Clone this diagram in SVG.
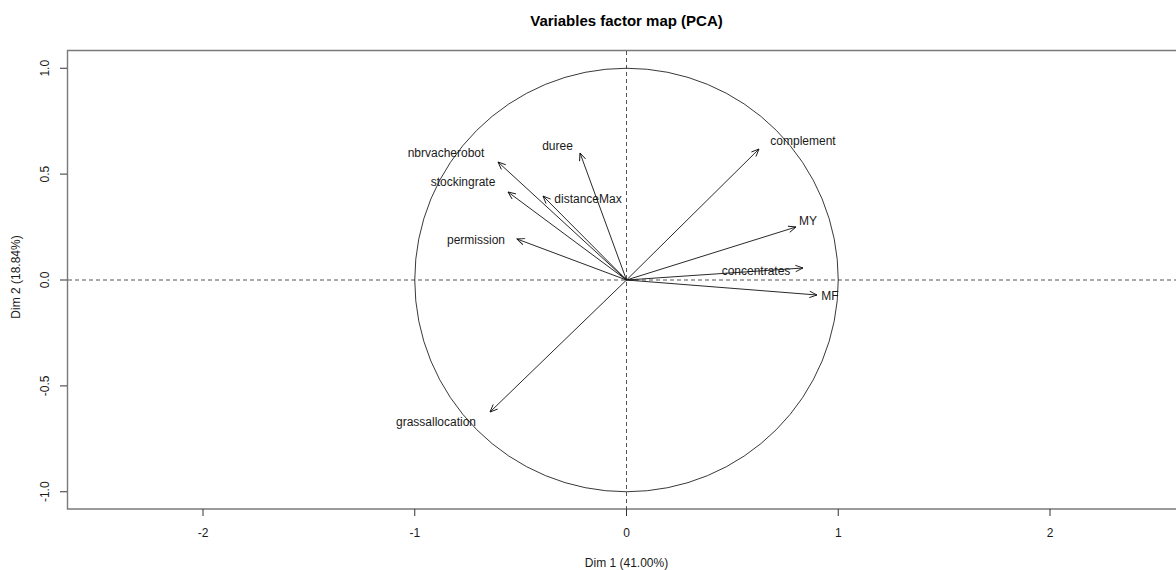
<svg xmlns="http://www.w3.org/2000/svg" width="1176" height="570" viewBox="0 0 1176 570">
<style>
text{font-family:"Liberation Sans",Arial,sans-serif;fill:#1a1a1a}
.t{font-size:12px}
.ttl{font-size:15px;font-weight:bold;fill:#000}
.frame{fill:none;stroke:#7a7a7a;stroke-width:1.4}
.tick{stroke:#333;stroke-width:1}
.dash{stroke:#555;stroke-width:1;stroke-dasharray:4 3;fill:none}
.arr{stroke:#111;stroke-width:0.9;fill:none;marker-end:url(#ah)}
.circ{fill:none;stroke:#222;stroke-width:0.9}
</style>
<defs>
<marker id="ah" markerUnits="userSpaceOnUse" markerWidth="12" markerHeight="12" viewBox="-10 -6 12 12" refX="0" refY="0" orient="auto">
<path d="M-7.5,-3.2 L0,0 L-7.5,3.2" fill="none" stroke="#111" stroke-width="0.9"/>
</marker>
</defs>
<rect width="1176" height="570" fill="#fff"/>
<text class="ttl" x="626.5" y="26" text-anchor="middle">Variables factor map (PCA)</text>
<g id="axes">
<path class="frame" d="M1180,50.5 H67.5 V509 H1180"/>
<g class="tick">
<line x1="203" y1="509" x2="203" y2="516"/>
<line x1="414.75" y1="509" x2="414.75" y2="516"/>
<line x1="626.5" y1="509" x2="626.5" y2="516"/>
<line x1="838.25" y1="509" x2="838.25" y2="516"/>
<line x1="1050" y1="509" x2="1050" y2="516"/>
<line x1="60" y1="68.25" x2="67" y2="68.25"/>
<line x1="60" y1="174.1" x2="67" y2="174.1"/>
<line x1="60" y1="280" x2="67" y2="280"/>
<line x1="60" y1="385.9" x2="67" y2="385.9"/>
<line x1="60" y1="491.75" x2="67" y2="491.75"/>
</g>
<g class="t" text-anchor="middle">
<text x="203" y="537">-2</text>
<text x="414.75" y="537">-1</text>
<text x="626.5" y="537">0</text>
<text x="838.25" y="537">1</text>
<text x="1050" y="537">2</text>
<text transform="translate(48.5,68.25) rotate(-90)">1.0</text>
<text transform="translate(48.5,174.1) rotate(-90)">0.5</text>
<text transform="translate(48.5,280) rotate(-90)">0.0</text>
<text transform="translate(48.5,385.9) rotate(-90)">-0.5</text>
<text transform="translate(48.5,491.75) rotate(-90)">-1.0</text>
</g>
<text class="t" x="626.5" y="567" text-anchor="middle">Dim 1 (41.00%)</text>
<text class="t" transform="translate(20,277) rotate(-90)" text-anchor="middle">Dim 2 (18.84%)</text>
<line class="dash" x1="626.5" y1="51" x2="626.5" y2="509"/>
<line class="dash" x1="68" y1="280" x2="1176" y2="280"/>
<circle class="circ" cx="626.5" cy="280" r="211.75"/>
</g>
<g id="connectors">
<line class="arr" x1="626.5" y1="280" x2="498" y2="162"/>
<line class="arr" x1="626.5" y1="280" x2="580" y2="153"/>
<line class="arr" x1="626.5" y1="280" x2="508" y2="192"/>
<line class="arr" x1="626.5" y1="280" x2="543" y2="196"/>
<line class="arr" x1="626.5" y1="280" x2="517" y2="239"/>
<line class="arr" x1="626.5" y1="280" x2="759" y2="149"/>
<line class="arr" x1="626.5" y1="280" x2="796" y2="227"/>
<line class="arr" x1="626.5" y1="280" x2="803" y2="268"/>
<line class="arr" x1="626.5" y1="280" x2="817" y2="295"/>
<line class="arr" x1="626.5" y1="280" x2="490" y2="412"/>
</g>
<g class="t" text-anchor="middle">
<g id="nbrvacherobot"><text x="446" y="157">nbrvacherobot</text></g>
<g id="duree"><text x="557.5" y="150">duree</text></g>
<g id="stockingrate"><text x="463" y="186">stockingrate</text></g>
<g id="distanceMax"><text x="588" y="203">distanceMax</text></g>
<g id="permission"><text x="476" y="244">permission</text></g>
<g id="complement"><text x="803" y="145">complement</text></g>
<g id="MY"><text x="808" y="225">MY</text></g>
<g id="concentrates"><text x="756" y="275">concentrates</text></g>
<g id="MF"><text x="830" y="300">MF</text></g>
<g id="grassallocation"><text x="436" y="426">grassallocation</text></g>
</g>
</svg>
